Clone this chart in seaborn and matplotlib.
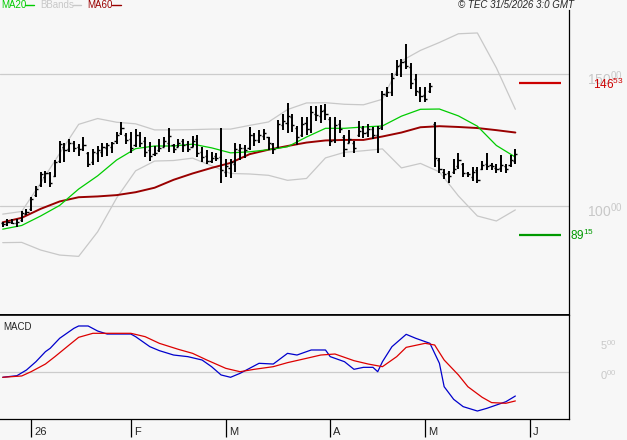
import numpy as np
import matplotlib
matplotlib.use('Agg')
import matplotlib.pyplot as plt
import matplotlib.transforms as mtransforms
from matplotlib.lines import Line2D
import seaborn as sns
import pandas as pd

sns.set_style('white')
plt.rcParams['font.family'] = ['Liberation Sans', 'DejaVu Sans']
plt.rcParams['mathtext.default'] = 'regular'

BG = '#F7F7F7'
GRID = '#CCCCCC'
C_MA20 = '#00CC00'
C_MA60 = '#990000'
C_BB = '#C8C8C8'
C_MACD = '#0000CC'
C_SIG = '#DD0000'
C_AXLBL = '#C8C8C8'

# ---- daily OHLC bars (one per trading day) ----
high = [94.0, 94.9, 94.9, 95.2, 98.2, 98.7, 103.3, 107.6, 113.0, 113.4,
        113.0, 117.4, 124.7, 123.7, 125.3, 124.7, 123.5, 126.2, 120.6, 121.5,
        122.7, 124.0, 124.0, 124.4, 128.1, 131.6, 127.8, 128.1, 129.0, 128.1,
        126.0, 124.4, 122.7, 125.3, 126.2, 129.4, 123.5, 125.3, 125.3, 124.7,
        126.5, 126.9, 122.5, 121.0, 120.6, 120.2, 129.4, 117.7, 117.7, 124.0,
        123.5, 123.1, 130.0, 127.8, 128.8, 129.0, 126.2, 124.0, 132.6, 134.8,
        139.1, 134.8, 130.3, 133.6, 133.6, 137.9, 137.9, 138.3, 138.6, 133.6,
        133.6, 132.6, 126.9, 128.8, 124.7, 132.3, 130.3, 131.1, 129.8, 130.3,
        143.7, 145.2, 150.5, 155.3, 155.6, 161.4, 154.0, 150.0, 145.0, 145.0,
        146.7, 131.9, 118.1, 113.9, 113.4, 117.7, 120.0, 116.4, 113.0, 114.9,
        114.7, 117.2, 120.0, 116.4, 115.9, 119.3, 115.9, 119.3, 121.4]
low = [92.0, 92.4, 93.2, 92.2, 94.0, 96.6, 98.2, 103.5, 107.3, 108.6,
       107.1, 110.9, 116.4, 116.8, 120.6, 120.6, 118.9, 120.9, 114.9, 115.5,
       116.8, 118.7, 118.9, 119.9, 123.5, 126.9, 123.5, 120.2, 122.2, 122.2,
       118.7, 117.2, 118.9, 120.6, 122.2, 120.6, 119.9, 122.2, 120.6, 120.6,
       122.2, 118.7, 116.8, 115.9, 116.4, 117.2, 108.6, 111.1, 110.5, 113.0,
       117.4, 118.0, 121.2, 122.7, 123.7, 125.0, 121.2, 119.7, 121.9, 128.8,
       127.5, 128.1, 123.1, 126.2, 126.9, 127.5, 132.3, 131.5, 132.6, 122.7,
       123.7, 127.8, 118.4, 123.7, 120.2, 126.2, 125.6, 126.0, 125.3, 120.2,
       128.8, 141.4, 141.7, 149.2, 149.0, 151.8, 144.2, 141.7, 139.5, 139.5,
       142.9, 114.9, 112.6, 110.1, 108.8, 112.1, 113.9, 111.1, 110.9, 109.6,
       108.8, 113.6, 113.6, 113.6, 112.6, 113.0, 112.4, 114.9, 115.9]
open_ = [93.5, 93.0, 94.0, 93.5, 94.5, 97.0, 99.0, 104.0, 108.0, 111.0,
         112.5, 111.5, 117.0, 122.5, 121.5, 124.0, 122.5, 121.5, 120.0, 116.5,
         120.0, 120.5, 122.0, 122.5, 124.5, 127.5, 127.0, 125.5, 123.0, 127.0,
         124.5, 121.0, 119.5, 121.0, 122.5, 124.0, 123.0, 122.5, 124.5, 123.5,
         122.5, 125.5, 120.5, 119.0, 117.0, 119.0, 118.5, 113.0, 114.5, 116.0,
         121.0, 122.0, 122.0, 127.0, 125.0, 126.5, 126.0, 123.5, 122.5, 130.5,
         131.5, 133.5, 129.5, 127.0, 131.5, 129.0, 135.0, 134.0, 136.5, 133.0,
         125.0, 131.0, 126.0, 124.0, 124.0, 127.0, 129.5, 128.0, 129.0, 127.0,
         130.0, 142.0, 143.0, 150.0, 153.5, 155.0, 152.5, 148.0, 143.0, 142.0,
         143.5, 131.0, 117.5, 113.0, 112.5, 113.0, 115.0, 116.0, 112.5, 111.0,
         113.5, 114.0, 116.0, 115.5, 114.5, 114.5, 115.0, 115.5, 117.0]
close = [93.0, 93.8, 93.6, 94.0, 97.5, 97.8, 102.5, 106.5, 112.0, 112.5,
         108.5, 116.5, 123.5, 121.0, 124.0, 122.0, 121.5, 123.0, 116.0, 120.5,
         121.0, 122.5, 123.0, 124.0, 127.0, 129.5, 125.0, 122.0, 127.0, 124.0,
         120.5, 119.0, 120.0, 122.0, 124.5, 126.5, 121.5, 124.0, 123.0, 121.5,
         124.5, 120.0, 118.5, 117.0, 118.0, 118.0, 113.5, 115.0, 116.5, 121.5,
         122.0, 121.0, 127.0, 125.0, 127.0, 127.5, 124.0, 121.5, 131.0, 132.0,
         134.0, 130.5, 126.0, 131.0, 129.0, 135.5, 134.5, 136.0, 135.0, 124.5,
         130.5, 129.0, 121.5, 125.5, 122.0, 128.5, 127.5, 129.0, 127.0, 129.5,
         142.5, 143.0, 148.5, 153.0, 154.5, 153.0, 146.5, 143.5, 141.5, 140.5,
         145.5, 118.0, 114.0, 112.0, 111.5, 114.0, 117.5, 112.5, 112.0, 113.0,
         110.0, 115.5, 115.0, 115.0, 114.0, 115.5, 114.0, 117.5, 119.5]

# ---- overlays, read every 4th bar ----
line_idx = list(range(0, 109, 4))
ma20 = [91.2, 92.6, 96.2, 100.2, 106.4, 111.4, 117.4, 121.7, 122.7, 122.7,
        123.4, 122.0, 120.1, 120.5, 121.3, 122.4, 126.1, 129.4, 129.4, 129.9,
        130.3, 134.0, 136.6, 136.7, 134.1, 130.2, 122.9, 118.5]
ma60 = [93.8, 95.5, 98.9, 101.7, 103.3, 103.6, 104.1, 105.2, 106.9, 109.9,
        112.3, 114.4, 116.3, 119.6, 121.3, 122.7, 124.0, 124.8, 125.0, 125.0,
        126.3, 127.8, 129.8, 130.2, 129.9, 129.5, 128.7, 127.8]
bb_up = [96.9, 97.9, 108.7, 119.9, 130.9, 133.1, 131.7, 131.1, 128.8, 128.8,
         128.9, 129.1, 129.1, 130.5, 131.8, 136.5, 139.0, 139.1, 138.5, 138.3,
         140.4, 154.9, 158.9, 161.9, 165.2, 165.5, 152.3, 136.6]
bb_lo = [86.1, 86.2, 83.3, 81.4, 80.9, 90.2, 103.0, 113.3, 117.0, 117.2,
         118.1, 115.2, 112.3, 112.1, 111.6, 109.7, 110.4, 118.2, 120.3, 120.9,
         121.6, 114.4, 116.1, 112.9, 103.8, 96.2, 94.3, 98.5]

# ---- MACD panel ----
macd_idx = [0, 3, 5, 7, 9, 10, 12, 15, 16, 18, 20, 22, 27, 28, 31, 33, 36, 39, 42, 44,
            46, 48, 50, 52, 54, 57, 60, 62, 65, 68, 69, 72, 74, 76, 78, 79, 80, 82, 85, 87,
            90, 92, 93, 95, 97, 100, 102, 104, 106, 108]
macd_val = [-0.83, -0.56, 0.38, 1.77, 3.44, 4.0, 5.67, 7.33, 7.72, 7.72,
            6.88, 6.38, 6.38, 5.94, 4.27, 3.61, 2.88, 2.61, 2.05, 0.94,
            -0.44, -0.83, -0.17, 0.66, 1.5, 1.38, 3.16, 2.88, 3.72, 3.72,
            2.61, 1.77, 0.5, 0.83, 0.83, 0.1, 1.77, 4.27, 6.33, 5.67,
            4.83, 1.5, -2.4, -4.5, -5.72, -6.45, -6.0, -5.45, -4.9, -3.95]
sig_idx = [0, 4, 6, 9, 11, 14, 16, 19, 27, 30, 33, 37, 40, 43, 47, 50, 53, 57, 60, 64,
           67, 70, 74, 77, 80, 83, 85, 89, 91, 93, 96, 98, 101, 103, 106, 108]
sig_val = [-0.83, -0.61, 0.11, 1.38, 2.61, 4.55, 5.83, 6.5, 6.5, 5.94,
           4.83, 3.83, 3.16, 2.05, 0.66, 0.1, 0.5, 0.94, 1.61, 2.33,
           2.88, 3.05, 1.94, 1.38, 0.94, 2.61, 4.16, 4.83, 4.55, 2.05,
           -0.44, -2.4, -4.16, -5.05, -5.16, -4.77]

month_idx = [6, 27, 47, 69, 89, 111]
month_lbl = ['26', 'F', 'M', 'A', 'M', 'J']
price_ticks = [100, 150]
macd_ticks = [0, 5]
resistance = 146.53
support = 89.15

bars = pd.DataFrame({'idx': np.arange(len(close)), 'open': open_, 'high': high,
                     'low': low, 'close': close})
overlay = pd.DataFrame({'idx': line_idx, 'MA20': ma20, 'MA60': ma60,
                        'BBup': bb_up, 'BBlo': bb_lo})

W, H = 627, 440
fig = plt.figure(figsize=(W / 100, H / 100), dpi=100, facecolor=BG)


def rect(x0, y0, x1, y1):
    return [x0 / W, 1 - y1 / H, (x1 - x0) / W, (y1 - y0) / H]


ax = fig.add_axes(rect(0, 10, 569, 315), facecolor=BG)
axm = fig.add_axes(rect(0, 315, 569, 419), facecolor=BG, sharex=ax)

# price panel
for t in price_ticks:
    ax.axhline(t, color=GRID, lw=0.9, zorder=0)
sns.lineplot(data=overlay, x='idx', y='BBup', ax=ax, color=C_BB, lw=0.9)
sns.lineplot(data=overlay, x='idx', y='BBlo', ax=ax, color=C_BB, lw=0.9)
sns.lineplot(data=overlay, x='idx', y='MA60', ax=ax, color=C_MA60, lw=1.4)
sns.lineplot(data=overlay, x='idx', y='MA20', ax=ax, color=C_MA20, lw=0.9)
ax.vlines(bars['idx'], bars['low'], bars['high'], color='black', lw=1.4, zorder=3)
ax.hlines(bars['open'], bars['idx'] - 0.45, bars['idx'], color='black', lw=1.0, zorder=3)
ax.hlines(bars['close'], bars['idx'], bars['idx'] + 0.45, color='black', lw=1.0, zorder=3)

last = bars['idx'].iloc[-1]
ax.hlines(resistance, last + 0.8, last + 9.6, color='#CC0000', lw=1.6)
ax.hlines(support, last + 0.8, last + 9.6, color='#009900', lw=1.6)

ax.set_xlim(-0.57, 119.3)
ax.set_ylim(58.7, 174.2)
ax.set_xlabel('')
ax.set_ylabel('')
ax.tick_params(left=False, bottom=False, labelleft=False, labelbottom=False)
for s in ['top', 'left']:
    ax.spines[s].set_visible(False)
ax.spines['right'].set_color('black')
ax.spines['right'].set_linewidth(0.9)
ax.spines['bottom'].set_color('black')
ax.spines['bottom'].set_linewidth(1.2)

tp = mtransforms.blended_transform_factory(fig.transFigure, ax.transData)
for t in price_ticks:
    ax.annotate(f'{t}$^{{00}}$', xy=(587 / W, t), xycoords=tp, xytext=(0, -7.9),
                textcoords='offset points', va='baseline', ha='left',
                color=C_AXLBL, fontsize=10, annotation_clip=False)
ax.annotate('146$^{53}$', xy=(593 / W, resistance), xycoords=tp, xytext=(0, -4.3),
            textcoords='offset points', va='baseline', ha='left',
            color='#CC0000', fontsize=8.5, annotation_clip=False)
ax.annotate('89$^{15}$', xy=(570 / W, support), xycoords=tp, xytext=(0, -3.9),
            textcoords='offset points', va='baseline', ha='left',
            color='#009900', fontsize=8.5, annotation_clip=False)

# MACD panel
axm.axhline(0, color=GRID, lw=0.9, zorder=0)
sns.lineplot(x=macd_idx, y=macd_val, ax=axm, color=C_MACD, lw=0.9)
sns.lineplot(x=sig_idx, y=sig_val, ax=axm, color=C_SIG, lw=0.9)
axm.set_ylim(-7.78, 9.55)
axm.set_xlabel('')
axm.set_ylabel('')
axm.spines['left'].set_visible(False)
for s in ['right', 'bottom']:
    axm.spines[s].set_color('black')
    axm.spines[s].set_linewidth(0.9)
axm.spines['top'].set_color('black')
axm.spines['top'].set_linewidth(1.2)
axm.tick_params(left=False, labelleft=False)
axm.set_xticks(month_idx)
axm.set_xticklabels(month_lbl)
axm.tick_params(axis='x', bottom=True, labelbottom=True, direction='out', length=13,
                width=0.9, color='black', pad=-7, labelsize=8)
offset = mtransforms.ScaledTranslation(3 / 100, 0, fig.dpi_scale_trans)
for lbl in axm.get_xticklabels():
    lbl.set_horizontalalignment('left')
    lbl.set_transform(lbl.get_transform() + offset)

tm = mtransforms.blended_transform_factory(fig.transFigure, axm.transData)
for t in macd_ticks:
    axm.annotate(f'{t}$^{{00}}$', xy=(600 / W, t), xycoords=tm, xytext=(0, -5.7),
                 textcoords='offset points', va='baseline', ha='left',
                 color=C_AXLBL, fontsize=8, annotation_clip=False)
fig.text(3 / W, 1 - 327.5 / H, 'MACD', fontsize=7, va='center', ha='left')

# header legend
yh = 1 - 5 / H
fig.text(1 / W, yh, 'MA20', color=C_MA20, fontsize=7, va='center')
fig.add_artist(Line2D([25 / W, 34 / W], [yh, yh], color=C_MA20, lw=1, transform=fig.transFigure))
fig.text(40 / W, yh, 'BBands', color=C_BB, fontsize=7, va='center')
fig.add_artist(Line2D([73 / W, 81 / W], [yh, yh], color=C_BB, lw=1, transform=fig.transFigure))
fig.text(87 / W, yh, 'MA60', color=C_MA60, fontsize=7, va='center')
fig.add_artist(Line2D([112 / W, 121 / W], [yh, yh], color=C_MA60, lw=1, transform=fig.transFigure))
fig.text(574 / W, yh, '© TEC 31/5/2026 3:0 GMT', fontsize=7, style='italic',
         va='center', ha='right')

fig.savefig('out.png', dpi=100, facecolor=BG)
